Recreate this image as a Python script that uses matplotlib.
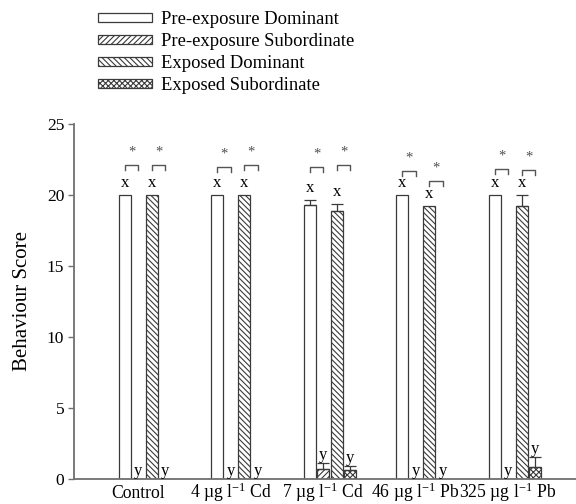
import numpy as np
import matplotlib
matplotlib.use('Agg')
import matplotlib.pyplot as plt
from matplotlib.patches import Patch

plt.rcParams['font.family'] = 'Liberation Serif'
plt.rcParams['mathtext.fontset'] = 'custom'
plt.rcParams['mathtext.rm'] = 'Liberation Serif'
plt.rcParams['mathtext.it'] = 'Liberation Serif:italic'
plt.rcParams['hatch.linewidth'] = 0.8

# data
groups = ['Control', '4 µg l$^{-1}$ Cd', '7 µg l$^{-1}$ Cd',
          '46 µg l$^{-1}$ Pb', '325 µg l$^{-1}$ Pb']
series = ['Pre-exposure Dominant', 'Pre-exposure Subordinate',
          'Exposed Dominant', 'Exposed Subordinate']
pre_dom = [20, 20, 19.3, 20, 20]
pre_dom_err = [0, 0, 0.35, 0, 0]
pre_sub = [0, 0, 0.7, 0, 0]
pre_sub_err = [0, 0, 0.4, 0, 0]
exp_dom = [20, 20, 18.9, 19.25, 19.2]
exp_dom_err = [0, 0, 0.5, 0, 0.8]
exp_sub = [0, 0, 0.6, 0, 0.85]
exp_sub_err = [0, 0, 0.3, 0, 0.7]
letters = ['x', 'y', 'x', 'y']
# significance brackets (dominant vs subordinate), pre and exposed
brk_pre = [22.1, 21.97, 21.97, 21.7, 21.83]
brk_exp = [22.1, 22.1, 22.1, 21.0, 21.76]

vals = [pre_dom, pre_sub, exp_dom, exp_sub]
errs = [pre_dom_err, pre_sub_err, exp_dom_err, exp_sub_err]
hatches = ['', '//////', '\\\\\\\\\\\\', 'xxxxxx']
edge = '#3a3a3a'

fig = plt.figure(figsize=(5.76, 5.04), dpi=100)
ax = fig.add_axes([0.1285, 0.0496, 0.8715, 0.7044])

x = np.arange(len(groups))
step = 0.146
width = 0.13
centers = []
for j in range(4):
    xs = x + (j - 1.5) * step
    centers.append(xs)
    ax.bar(xs, vals[j], width, color='white', edgecolor=edge, hatch=hatches[j],
           linewidth=0.9, zorder=2)
    e = np.array(errs[j])
    m = e > 0
    ax.errorbar(xs[m], np.array(vals[j])[m], yerr=[np.zeros(m.sum()), e[m]],
                fmt='none', ecolor=edge, elinewidth=0.9, capsize=4, capthick=0.9, zorder=3)
    for k in range(len(groups)):
        top = vals[j][k] + errs[j][k]
        off = 0.55 if top > 5 else 0.3
        ax.text(xs[k], top + off, letters[j], ha='center', va='baseline', fontsize=12)

for k in range(len(groups)):
    for a, b, h in [(centers[0][k], centers[1][k], brk_pre[k]),
                    (centers[2][k], centers[3][k], brk_exp[k])]:
        ax.plot([a, a, b, b], [h - 0.35, h, h, h - 0.35], color='#555555', lw=1.0,
                clip_on=False)
        ax.text((a + b) / 2, h + 0.9, '*', ha='center', va='center',
                fontsize=10.5, color='#505050')

ax.set_xlim(-0.77, 4.66)
ax.set_ylim(0, 25)
ax.set_yticks([0, 5, 10, 15, 20, 25])
ax.set_xticks(x - 0.075)
ax.set_xticklabels(groups, fontsize=12.7)
for lab in ax.get_xticklabels():
    lab.set_verticalalignment('baseline')
ax.tick_params(axis='x', length=0, pad=13.5)
ax.tick_params(axis='y', length=4, width=1, color='#707070', labelsize=12.5, pad=3)
ax.set_ylabel('Behaviour Score', fontsize=15, labelpad=11)
for s in ['top', 'right']:
    ax.spines[s].set_visible(False)
for s in ['left', 'bottom']:
    ax.spines[s].set_color('#707070')
    ax.spines[s].set_linewidth(1.3)

handles = [Patch(facecolor='white', edgecolor=edge, hatch=h, linewidth=0.9) for h in hatches]
fig.legend(handles, series, loc='upper left', bbox_to_anchor=(0.170, 0.978),
           frameon=False, fontsize=13.4, handlelength=2.9, handleheight=0.4,
           handletextpad=0.5, labelspacing=0.27, borderpad=0, borderaxespad=0)

plt.savefig('out.png', dpi=100)
